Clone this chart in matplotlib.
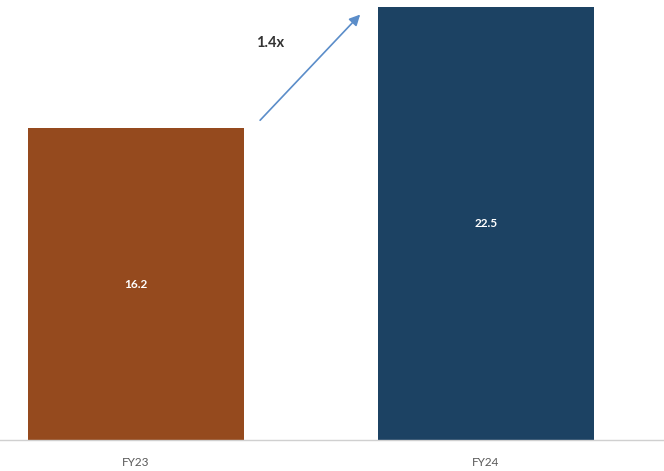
import matplotlib
matplotlib.use("Agg")
import matplotlib.pyplot as plt

categories = ["FY23", "FY24"]
values = [16.2, 22.5]
colors = ["#954A1E", "#1C4263"]
growth_label = "1.4x"

plt.rcParams['font.family'] = ['Lato', 'DejaVu Sans']

fig = plt.figure(figsize=(6.64, 4.71), dpi=100)
ax = fig.add_axes([0, 31/471, 1, 440/471])

x = list(range(len(categories)))
bars = ax.bar(x, values, width=0.617, color=colors)
ax.set_xlim(-0.389, 1.509)
ax.set_ylim(0, 22.85)

for xi, v in zip(x, values):
    ax.text(xi, v / 2, f"{v}", ha="center", va="center", color="white",
            fontsize=8.5, fontweight="bold")

ax.annotate("", xy=(0.646, 22.2), xytext=(0.349, 16.5),
            arrowprops=dict(arrowstyle="-|>", color="#5B8DC9", lw=1.2,
                            mutation_scale=16))
ax.text(0.383, 20.6, growth_label, ha="center", va="center", color="#333333",
        fontsize=10.5, fontweight="bold")

ax.set_xticks(x)
ax.set_xticklabels(categories, fontsize=8.5, color="#595959")
ax.tick_params(axis="x", length=0, pad=12)
ax.set_yticks([])
for s in ["top", "right", "left"]:
    ax.spines[s].set_visible(False)
ax.spines["bottom"].set_color("#D0D0D0")
ax.spines["bottom"].set_linewidth(1)

fig.savefig("out.png", dpi=100)
